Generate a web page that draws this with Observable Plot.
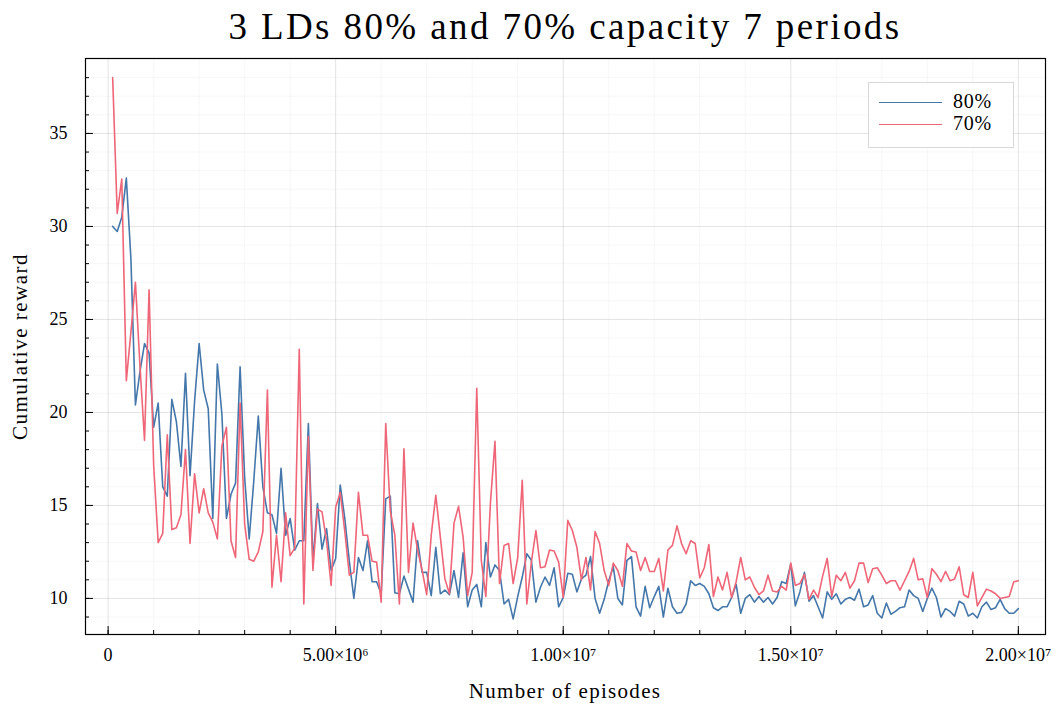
<!DOCTYPE html>
<html><head><meta charset="utf-8">
<script src="https://cdn.jsdelivr.net/npm/d3@7"></script>
<script src="https://cdn.jsdelivr.net/npm/@observablehq/plot@0.6"></script>
<style>
body{margin:0;background:#fff;}
#wrap{position:relative;width:1064px;height:707px;font-family:"Liberation Serif",serif;color:#000;}
#wrap svg{position:absolute;left:0;top:0;}
.t{position:absolute;white-space:nowrap;}
#title{left:85px;width:960px;top:5px;text-align:center;font-size:37px;letter-spacing:2.4px;}
#xlab{left:85px;width:960px;top:679px;text-align:center;font-size:21px;letter-spacing:1.3px;}
#ylab{left:-80px;top:334px;width:200px;text-align:center;font-size:21px;letter-spacing:1.5px;transform:rotate(-90deg);}
#legend{left:868px;top:82px;width:144px;height:64px;border:1px solid #d8d8d8;background:#fff;}
#legend .row{position:absolute;left:10px;height:20px;font-size:20px;letter-spacing:0.8px;}
#legend .sw{position:absolute;left:0;top:9px;width:63px;height:0;border-top:1.6px solid;}
#legend .lb{position:absolute;left:74px;top:-3px;}
</style></head><body>
<div id="wrap"><div id="chart"></div>
<div class="t" id="title">3 LDs 80% and 70% capacity 7 periods</div>
<div class="t" id="xlab">Number of episodes</div>
<div class="t" id="ylab">Cumulative reward</div>
<div class="t" id="legend"></div>
</div>
<script>
// ---- data ----
const seriesNames = ["80%", "70%"];
const seriesColors = ["#4477AA", "#EE6677"];
const episodeStep = 100000; // episodes between evaluations (1e5 ... 2e7)
const reward80 = [
30.0,29.73,30.5,32.6,28.3,20.4,22.2,23.7,23.2,19.2,
20.5,16.0,15.5,20.7,19.5,17.1,22.1,16.6,20.6,23.7,
21.2,20.2,14.3,22.6,19.9,14.3,15.6,16.2,22.45,16.5,
13.2,16.3,19.8,16.0,14.6,14.5,13.5,17.0,13.4,14.3,
12.6,13.1,13.1,19.4,12.0,15.1,12.65,13.75,11.5,12.15,
16.1,14.3,12.0,10.0,12.2,11.5,13.1,10.9,10.9,10.25,
15.35,15.5,10.3,10.25,11.2,10.5,9.8,13.1,11.4,11.4,
10.15,12.75,10.25,10.45,10.2,11.5,10.05,12.45,9.55,10.45,
10.75,9.55,13.0,11.15,11.8,11.5,9.7,9.95,8.9,10.1,
11.15,12.4,12.05,9.8,10.6,11.15,10.7,11.65,9.55,10.05,
11.35,11.3,10.35,11.05,11.25,12.25,10.0,9.2,9.95,10.95,
11.7,10.0,9.65,12.05,12.25,9.55,9.05,10.65,9.5,10.1,
10.65,9.0,10.55,9.55,9.2,9.25,9.7,10.95,10.7,10.8,
10.65,10.25,9.5,9.35,9.55,9.55,10.05,10.75,9.2,10.0,
10.2,9.8,10.1,9.8,10.05,9.7,10.05,10.9,10.8,11.85,
9.6,10.35,11.4,9.85,10.15,9.55,8.95,10.35,9.95,10.25,
9.7,9.95,10.05,9.9,10.5,9.55,9.65,10.15,9.2,8.95,
9.75,9.15,9.3,9.5,9.55,10.45,10.15,10.0,9.3,10.0,
10.55,10.05,9.0,9.45,9.3,9.05,9.85,9.7,9.05,9.2,
8.95,9.55,9.8,9.4,9.5,9.95,9.45,9.2,9.2,9.45
];
const reward70 = [
38.0,30.7,32.55,21.7,24.3,27.0,22.5,18.5,26.6,17.2,
13.0,13.5,18.8,13.7,13.8,14.5,18.0,12.95,16.7,14.6,
15.9,14.6,14.1,13.2,18.2,19.2,13.1,12.2,20.5,14.0,
12.1,12.0,12.5,13.6,21.2,10.6,13.4,10.9,14.6,12.3,
12.7,23.4,9.7,18.7,11.5,14.8,14.65,13.1,10.7,14.9,
15.7,13.6,11.25,11.4,15.7,13.4,13.4,12.0,11.95,9.8,
19.4,14.7,13.4,9.7,18.05,11.4,14.05,12.6,11.5,10.2,
13.4,15.55,13.3,11.05,10.25,14.05,14.95,13.3,10.15,11.4,
21.3,12.05,10.1,15.1,18.45,10.8,12.85,12.95,10.8,12.2,
16.35,9.7,11.95,13.65,11.65,11.7,12.6,12.55,11.95,10.05,
14.2,13.65,12.75,11.0,12.2,10.45,13.6,12.95,11.5,10.7,
11.9,11.5,10.65,12.95,12.55,12.5,11.5,12.2,11.45,11.45,
12.15,10.4,12.6,12.85,13.9,12.95,12.4,13.1,12.95,11.1,
11.65,12.9,10.1,11.15,10.45,11.4,10.05,10.9,12.2,11.0,
11.15,10.6,10.2,10.4,11.25,10.4,10.35,10.65,10.45,11.9,
10.7,10.8,11.3,9.95,10.45,10.05,11.2,12.15,10.1,11.25,
10.95,11.4,10.55,10.95,11.9,11.9,10.85,11.6,11.65,11.25,
10.8,10.95,10.95,10.45,10.95,11.45,12.15,11.0,11.05,10.05,
11.6,11.3,10.9,11.45,10.95,11.05,11.7,10.2,10.05,11.4,
9.6,10.05,10.5,10.4,10.25,10.0,10.05,10.1,10.9,10.95
];
const xMajorTicks = [0, 5e6, 1e7, 1.5e7, 2e7];
const xTickLabels = ["0", "5.00×10⁶", "1.00×10⁷", "1.50×10⁷", "2.00×10⁷"];
const yMajorTicks = [10, 15, 20, 25, 30, 35];
const xMinorTicks = d3.range(0, 21).map(k => k * 1e6);
const yMinorTicks = d3.range(9, 39);

const rows = [];
[reward80, reward70].forEach((arr, s) => arr.forEach((v, i) => rows.push({episodes: (i + 1) * episodeStep, reward: v, series: seriesNames[s]})));

const W = 1064, H = 707, mL = 85, mR = 19, mT = 58, mB = 73;
const plotW = W - mL - mR, plotH = H - mT - mB;

const chart = Plot.plot({
  width: W, height: H, marginLeft: mL, marginRight: mR, marginTop: mT, marginBottom: mB,
  style: {fontFamily: "Liberation Serif, serif", fontSize: "18px", background: "transparent", color: "#000"},
  x: {domain: [-0.497e6, 2.0597e7], ticks: xMajorTicks, tickSize: 0, tickPadding: 14,
      tickFormat: d => xTickLabels[xMajorTicks.indexOf(d)], label: null},
  y: {domain: [8.06, 39.03], ticks: yMajorTicks, tickSize: 0, tickPadding: 18, label: null},
  color: {domain: seriesNames, range: seriesColors},
  marks: [
    Plot.ruleX(xMinorTicks, {stroke: "#000", strokeOpacity: 0.035}),
    Plot.ruleY(yMinorTicks, {stroke: "#000", strokeOpacity: 0.035}),
    Plot.ruleX(xMajorTicks, {stroke: "#000", strokeOpacity: 0.08}),
    Plot.ruleY(yMajorTicks, {stroke: "#000", strokeOpacity: 0.08}),
    Plot.line(rows, {x: "episodes", y: "reward", z: "series", stroke: "series", strokeWidth: 1.6}),
    Plot.tickX(xMinorTicks, {x: d => d, insetTop: plotH - 4, stroke: "#000"}),
    Plot.tickX(xMajorTicks, {x: d => d, insetTop: plotH - 8, stroke: "#000"}),
    Plot.tickY(yMinorTicks, {y: d => d, insetRight: plotW - 4, stroke: "#000"}),
    Plot.tickY(yMajorTicks, {y: d => d, insetRight: plotW - 8, stroke: "#000"}),
    Plot.frame({stroke: "#000", strokeWidth: 1.2})
  ]
});
document.getElementById("chart").appendChild(chart);

const leg = document.getElementById("legend");
seriesNames.forEach((n, i) => {
  const r = document.createElement("div");
  r.className = "row";
  r.style.top = (10 + i * 22) + "px";
  r.innerHTML = `<div class="sw" style="border-color:${seriesColors[i]}"></div><div class="lb">${n}</div>`;
  leg.appendChild(r);
});
</script></body></html>
